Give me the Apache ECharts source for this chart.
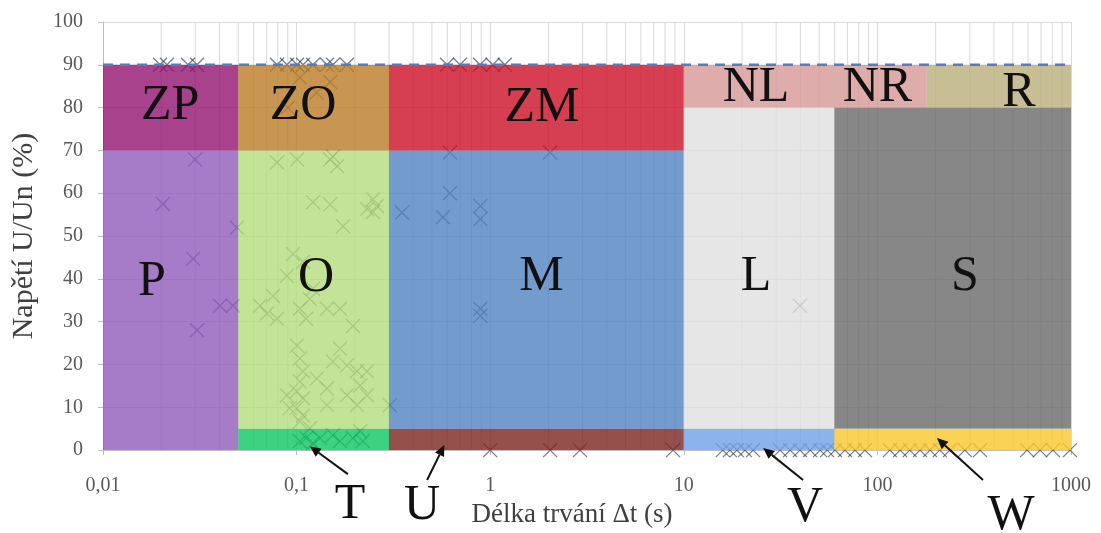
<!DOCTYPE html>
<html><head><meta charset="utf-8">
<script src="https://cdn.jsdelivr.net/npm/echarts@6/dist/echarts.min.js"></script>
<style>html,body{margin:0;padding:0;background:#fff}#c{width:1101px;height:533px}</style>
</head><body><div id="c"></div>
<script>
// ---- axis ticks ----
const xTickValues = [0.01, 0.1, 1, 10, 100, 1000];
const xTickLabels = ['0,01', '0,1', '1', '10', '100', '1000'];
const yTickValues = [0, 10, 20, 30, 40, 50, 60, 70, 80, 90, 100];

// ---- zones (duration s, voltage %) ----
const zoneNames = ['P', 'ZP', 'O', 'ZO', 'T', 'M', 'ZM', 'U', 'L', 'NL', 'V', 'S', 'NR', 'R', 'W'];
const zoneX0 = [0.01, 0.01, 0.05, 0.05, 0.05, 0.3, 0.3, 0.3, 10, 10, 10, 60, 60, 180, 60];
const zoneX1 = [0.05, 0.05, 0.3, 0.3, 0.3, 10, 10, 10, 60, 60, 60, 1000, 180, 1000, 1000];
const zoneY0 = [0, 70, 5, 70, 0, 5, 70, 0, 5, 80, 0, 5, 80, 80, 0];
const zoneY1 = [70, 90, 70, 90, 5, 70, 90, 5, 80, 90, 5, 80, 90, 90, 5];

// ---- zone labels inside the plot ----
const zoneLabelNames = ['ZP', 'ZO', 'ZM', 'NL', 'NR', 'R', 'P', 'O', 'M', 'L', 'S'];
const zoneLabelX = [0.0222, 0.108, 1.85, 23.6, 100, 539, 0.0179, 0.126, 1.84, 23.6, 283];
const zoneLabelY = [80.5, 80.5, 80, 84.6, 84.6, 83.5, 39.3, 40.2, 40.4, 40.5, 40.5];

// ---- callouts below the axis ----
const calloutNames = ['T', 'U', 'V', 'W'];
const calloutTextX = [0.189, 0.444, 42.3, 490];
const calloutTextY = [-12.8, -13, -13.5, -15.3];
const arrowFromX = [0.184, 0.472, 41.3, 351];
const arrowFromY = [-5.6, -7, -7, -7];
const arrowToX = [0.117, 0.58, 25.7, 203];
const arrowToY = [0.9, 1.2, 0.5, 2.8];

// ---- limit line ----
const limitX = [0.01, 1000];
const limitY = [90, 90];

// ---- recorded events ----
const eventDuration = [
  0.0204, 0.0299, 0.0292, 0.0402, 0.0469, 0.0306, 0.0492,
  0.0197, 0.0214, 0.0275, 0.0306,
  0.0792, 0.1005, 0.149, 0.162, 0.154,
  0.1216, 0.149, 0.248, 0.26, 0.231, 0.248, 0.174,
  0.0958, 0.108, 0.089, 0.1216, 0.0755, 0.0647, 0.0703, 0.0792, 0.104, 0.117, 0.112, 0.1435, 0.1675, 0.1955,
  0.1005, 0.104, 0.108, 0.104, 0.1, 0.108, 0.1, 0.108, 0.104, 0.117, 0.112, 0.1216, 0.104,
  0.1675, 0.154, 0.182, 0.205, 0.231, 0.213, 0.231, 0.205, 0.182, 0.1435, 0.127, 0.089, 0.092, 0.1435,
  0.1322, 0.1675, 0.1955, 0.22, 0.154, 0.213,
  0.303,
  0.104, 0.127, 0.149, 0.09,
  0.0792, 0.0892, 0.1005, 0.108, 0.1216, 0.1435, 0.154, 0.182,
  0.35, 0.62, 0.57, 0.89, 0.89, 0.89, 0.89, 0.62, 2.04,
  0.598, 0.698, 0.886, 1.03, 1.19,
  1.0, 2.04, 2.91, 8.8,
  39.8,
  15.9, 17.3, 18.8, 20.7, 22.8, 31.4, 35.4, 39.8, 44.9, 50.6, 55, 60.4, 68, 76.6, 86.3,
  116, 131, 147, 166, 187, 210, 237, 283, 339, 593, 692, 807, 988
];
const eventVoltage = [
  57.5, 67.9, 44.7, 33.7, 33.7, 28, 52,
  90, 90, 90, 90,
  67.2, 67.9, 67.9, 66.3, 68.6,
  57.9, 57.4, 58.6, 57, 56.3, 55.6, 52.3,
  45.8, 44, 40.7, 37.7, 36, 33.7, 31.9, 30.7, 33, 35.3, 30.7, 33, 33, 29,
  24.4, 21.4, 18.4, 16, 13.7, 12.1, 9.8, 8.1, 6.7, 5.1, 2.8, 1.6, 2.1,
  23.7, 20.7, 19.8, 18.4, 18.4, 15.1, 12.8, 10.5, 12.8, 14.4, 16.7, 12.8, 9.8, 10.5,
  2.8, 2.1, 2.8, 2.1, 3.5, 4.4,
  10.5,
  87, 83.5, 86, 80,
  90, 90, 90, 90, 90, 90, 90, 90,
  55.5, 60, 54.4, 57, 54, 31.4, 33, 69.5, 69.5,
  90, 90, 90, 90, 90,
  0, 0, 0, 0,
  33.7,
  0, 0, 0, 0, 0, 0, 0, 0, 0, 0, 0, 0, 0, 0, 0,
  0, 0, 0, 0, 0, 0, 0, 0, 0, 0, 0, 0, 0
];

// ---- styles ----
const zoneColors = {
  P: '#905BBA', ZP: '#92136F', O: '#B4DD7C', ZO: '#BA7C24', T: '#0BC763',
  M: '#5082C1', ZM: '#CC0E27', U: '#7C241E', L: '#E0E0E0', NL: '#D69795',
  V: '#6FA1E6', S: '#696969', NR: '#D69795', R: '#BAAE7C', W: '#F9C72B'
};
const SERIF = "'Liberation Serif', 'Times New Roman', serif";

const zoneData = zoneNames.map((n, i) => [zoneX0[i], zoneX1[i], zoneY0[i], zoneY1[i]]);
const labelData = zoneLabelNames.map((n, i) => [zoneLabelX[i], zoneLabelY[i]]);
const calloutData = calloutNames.map((n, i) => [calloutTextX[i], calloutTextY[i], arrowFromX[i], arrowFromY[i], arrowToX[i], arrowToY[i]]);
const eventData = eventDuration.map((x, i) => [x, eventVoltage[i]]);

// minor vertical gridlines at 2..9 of each decade
const minorGrid = [];
for (let d = 0; d < xTickValues.length - 1; d++) {
  for (let m = 2; m <= 9; m++) minorGrid.push([xTickValues[d] * m]);
}

function fmtX(v) {
  for (let i = 0; i < xTickValues.length; i++) {
    if (Math.abs(Math.log10(v) - Math.log10(xTickValues[i])) < 1e-6) return xTickLabels[i];
  }
  return '';
}

const chart = echarts.init(document.getElementById('c'), null, {renderer: 'canvas'});
chart.setOption({
  animation: false,
  backgroundColor: '#fff',
  grid: {left: 103, right: 30, top: 22, bottom: 81, containLabel: false},
  xAxis: {
    type: 'log', logBase: 10, min: 0.01, max: 1000, splitNumber: 5,
    name: 'Délka trvání Δt (s)', nameLocation: 'middle', nameGap: 36,
    nameTextStyle: {fontFamily: SERIF, fontSize: 27, color: '#404040', padding: [0, 30, 0, 0]},
    axisLine: {show: true, onZero: false, lineStyle: {color: '#bfbfbf'}},
    axisTick: {show: true, length: 5, lineStyle: {color: '#bfbfbf'}},
    axisLabel: {formatter: fmtX, fontFamily: SERIF, fontSize: 20, color: '#595959', margin: 26},
    splitLine: {show: true, lineStyle: {color: '#d9d9d9', width: 1}},
    minorTick: {show: false}, minorSplitLine: {show: false}
  },
  yAxis: {
    type: 'value', min: 0, max: 100, interval: 10,
    name: 'Napětí U/Un (%)', nameLocation: 'middle', nameGap: 64,
    nameTextStyle: {fontFamily: SERIF, fontSize: 30, color: '#404040'},
    axisLine: {show: true, lineStyle: {color: '#bfbfbf'}},
    axisTick: {show: true, length: 5, lineStyle: {color: '#bfbfbf'}},
    axisLabel: {fontFamily: SERIF, fontSize: 20, color: '#595959', margin: 20,
      formatter: v => String(v)},
    splitLine: {show: true, lineStyle: {color: '#d9d9d9', width: 1}}
  },
  series: [
    {
      type: 'custom', z: 1, silent: true, data: minorGrid,
      encode: {x: 0},
      renderItem(params, api) {
        const a = api.coord([api.value(0), 0]);
        const b = api.coord([api.value(0), 100]);
        return {type: 'line', shape: {x1: a[0], y1: a[1], x2: b[0], y2: b[1]},
          style: {stroke: '#d9d9d9', lineWidth: 1}};
      }
    },
    {
      type: 'scatter', z: 2, silent: true, data: eventData,
      symbol: 'path://M0,0L10,10M10,0L0,10', symbolSize: 14,
      itemStyle: {color: 'rgba(0,0,0,0)', borderColor: 'rgba(45,55,80,0.8)', borderWidth: 1.3}
    },
    {
      type: 'custom', z: 3, silent: true, data: zoneData,
      encode: {x: [0, 1], y: [2, 3]},
      renderItem(params, api) {
        const name = zoneNames[params.dataIndex];
        const p0 = api.coord([api.value(0), api.value(3)]);
        const p1 = api.coord([api.value(1), api.value(2)]);
        return {type: 'rect', shape: {x: p0[0], y: p0[1], width: p1[0] - p0[0], height: p1[1] - p0[1]},
          style: {fill: zoneColors[name], opacity: 0.8}};
      }
    },
    {
      type: 'line', z: 4, silent: true, symbol: 'none',
      data: limitX.map((x, i) => [x, limitY[i]]),
      lineStyle: {color: '#5b7bb2', width: 2.5, type: [10, 7]}
    },
    {
      type: 'custom', z: 5, silent: true, data: labelData,
      encode: {x: 0, y: 1},
      renderItem(params, api) {
        const p = api.coord([api.value(0), api.value(1)]);
        return {type: 'text', x: p[0], y: p[1],
          style: {text: zoneLabelNames[params.dataIndex], fontFamily: SERIF, fontSize: 50,
            fill: '#111', align: 'center', verticalAlign: 'middle'}};
      }
    },
    {
      type: 'custom', z: 6, silent: true, clip: false, data: calloutData,
      encode: {x: 0, y: 1},
      renderItem(params, api) {
        const t = api.coord([api.value(0), api.value(1)]);
        const f = api.coord([api.value(2), api.value(3)]);
        const e = api.coord([api.value(4), api.value(5)]);
        const ang = Math.atan2(e[1] - f[1], e[0] - f[0]);
        const L = 11, W = 5;
        const bx = e[0] - L * Math.cos(ang), by = e[1] - L * Math.sin(ang);
        const nx = -Math.sin(ang) * W, ny = Math.cos(ang) * W;
        return {type: 'group', children: [
          {type: 'line', shape: {x1: f[0], y1: f[1], x2: bx, y2: by}, style: {stroke: '#111', lineWidth: 2}},
          {type: 'polygon', shape: {points: [[e[0], e[1]], [bx + nx, by + ny], [bx - nx, by - ny]]}, style: {fill: '#111'}},
          {type: 'text', x: t[0], y: t[1], style: {text: calloutNames[params.dataIndex], fontFamily: SERIF,
            fontSize: 50, fill: '#111', align: 'center', verticalAlign: 'middle'}}
        ]};
      }
    }
  ]
});
</script></body></html>
